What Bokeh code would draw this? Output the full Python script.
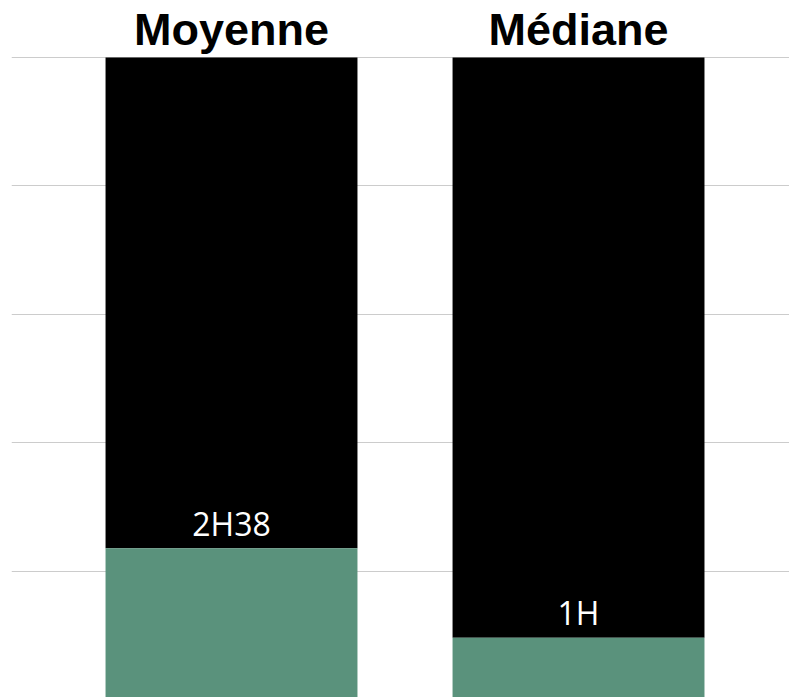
from bokeh.plotting import figure
from bokeh.models import Range1d, FixedTicker, ColumnDataSource
from bokeh.core.properties import value
from bokeh.embed import file_html
from bokeh.resources import INLINE

categories = ["Moyenne", "Médiane"]
green_values = [23.6, 9.7]
total_values = [100, 100]
value_labels = ["2H38", "1H"]
y_ticks = [0, 20, 40, 60, 80, 100]

xs = list(range(len(categories)))
src = ColumnDataSource(dict(
    x=xs,
    green=green_values,
    total=total_values,
    zero=[0] * len(xs),
    lab=value_labels,
    cat=categories,
    top=[max(total_values)] * len(xs),
))

p = figure(width=789, height=697, output_backend="svg", toolbar_location=None,
           x_range=Range1d(-0.634, 1.608), y_range=Range1d(0.39, 108.87),
           min_border_left=11, min_border_right=0,
           min_border_bottom=0, min_border_top=0)
p.outline_line_color = None
p.background_fill_color = "white"
p.xaxis.visible = False
p.yaxis.visible = False
p.xgrid.grid_line_color = None
p.ygrid.ticker = FixedTicker(ticks=y_ticks)
p.ygrid.grid_line_color = "#cccccc"
p.ygrid.grid_line_width = 1

p.vbar(x="x", width=0.726, bottom="green", top="total", source=src,
       fill_color="black", line_color=None)
p.vbar(x="x", width=0.726, bottom="zero", top="green", source=src,
       fill_color="#5a927c", line_color=None)

p.text(x="x", y="green", text="lab", source=src, text_color="white",
       text_font=value("Open Sans"), text_font_size="32px",
       text_align="center", text_baseline="alphabetic", y_offset=-25)

p.text(x="x", y="top", text="cat", source=src, text_color="black",
       text_font=value("Liberation Sans"), text_font_style="bold",
       text_font_size="45px", text_align="center",
       text_baseline="alphabetic", y_offset=-28)

open("out.html", "w").write(file_html(p, INLINE))
